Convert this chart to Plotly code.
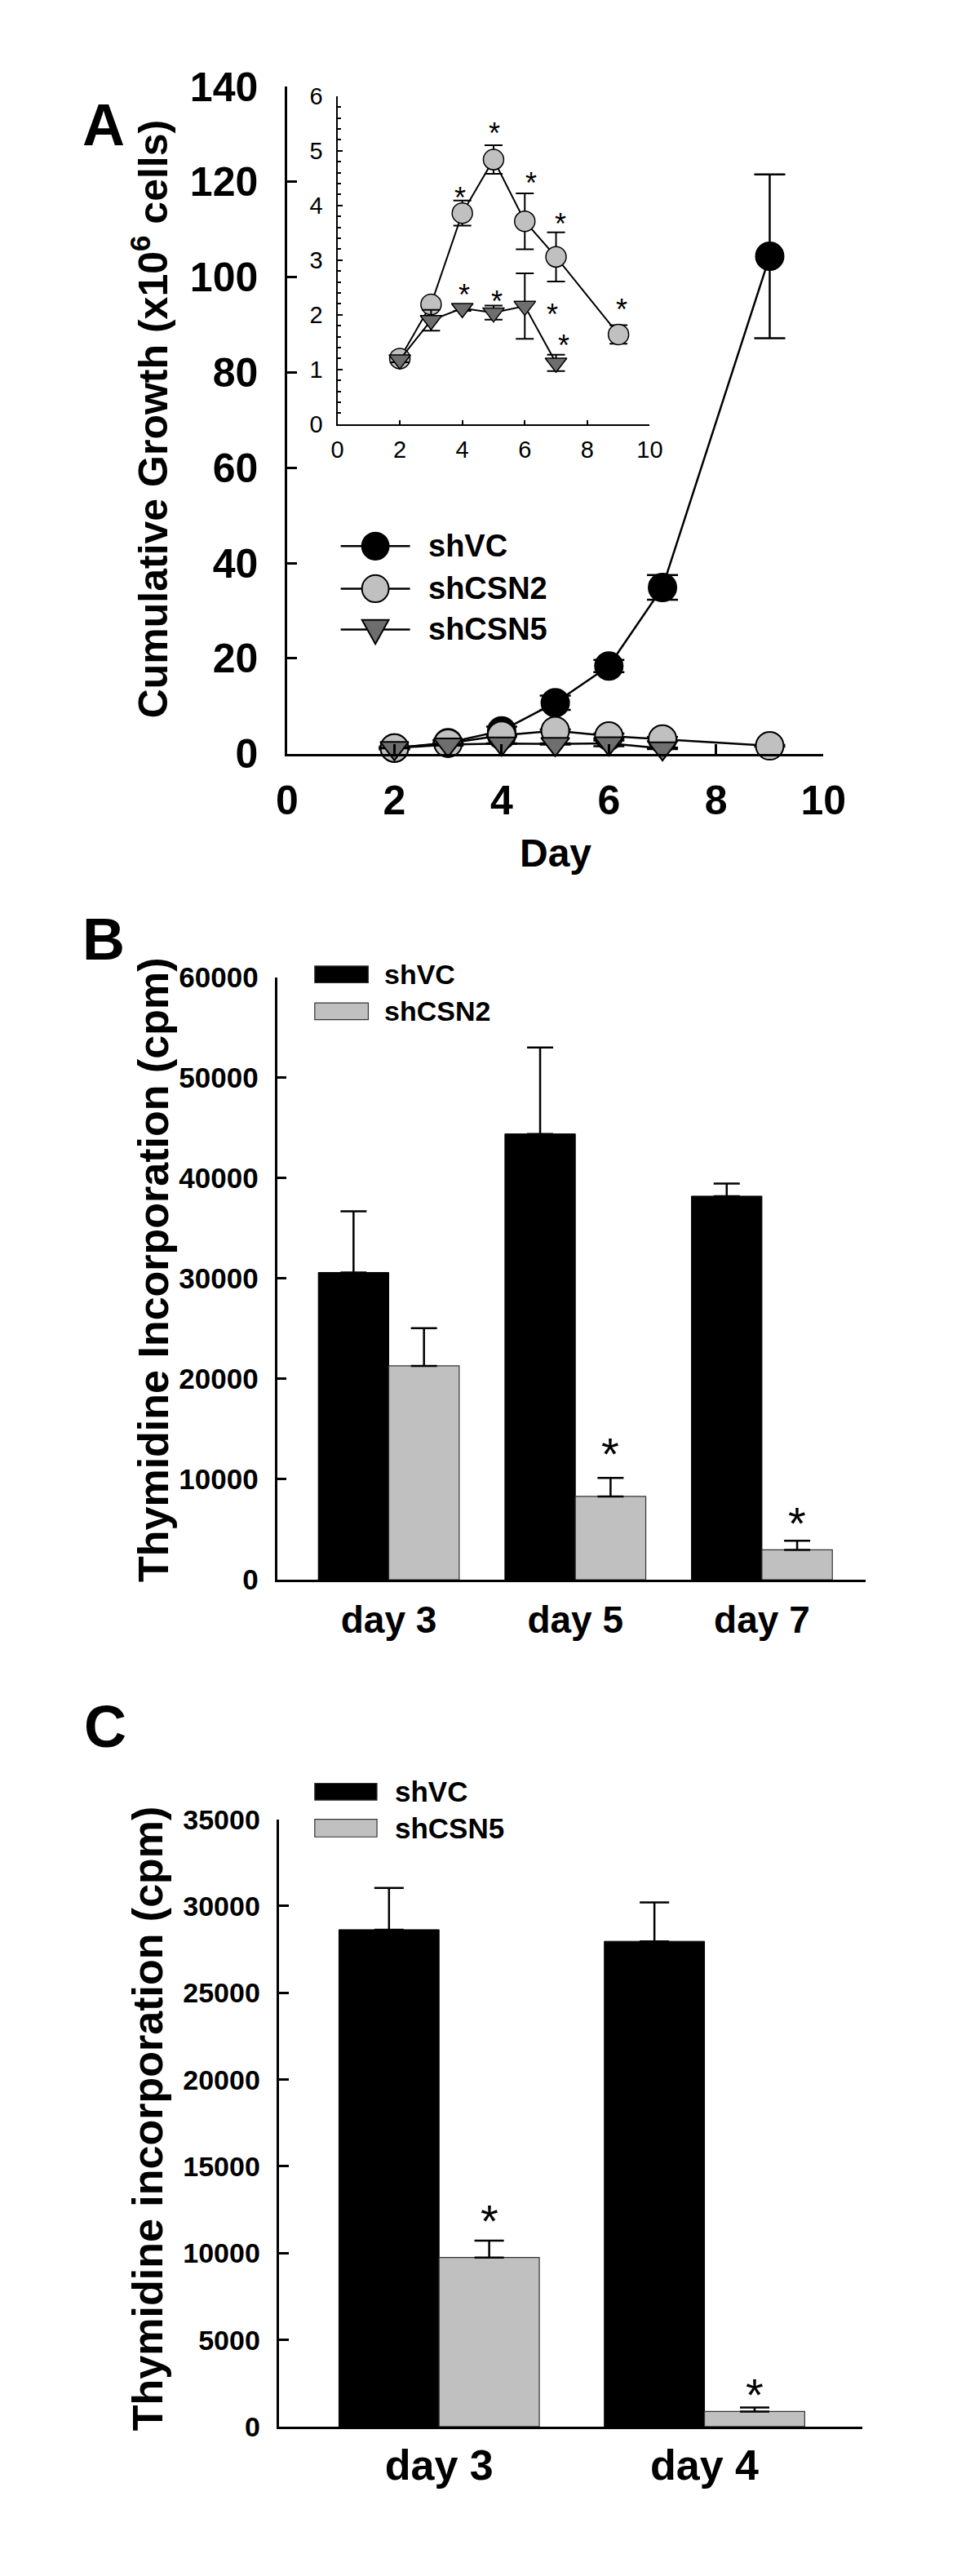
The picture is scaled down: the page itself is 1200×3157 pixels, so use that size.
import plotly.graph_objects as go

W, H = 1200, 3157
FONT = 'Liberation Sans, Arial, Helvetica, sans-serif'

# ---- data, panel A (cumulative growth, x10^6 cells) ----
days_vc = [2, 3, 4, 5, 6, 7, 9]
growth_vc = [1.2, 2.3, 4.8, 10.7, 18.4, 34.9, 104.4]
err_vc = [0.3, 0.5, 0.9, 1.5, 1.3, 2.6, 17.2]

days_csn2 = [2, 3, 4, 5, 6, 7, 9]
growth_csn2 = [1.2, 2.19, 3.86, 4.84, 3.71, 3.06, 1.64]
err_csn2 = [0.05, 0.1, 0.23, 0.26, 0.51, 0.45, 0.17]

days_csn5 = [2, 3, 4, 5, 6, 7]
growth_csn5 = [1.18, 1.9, 2.12, 2.04, 2.16, 1.12]
err_csn5 = [0.05, 0.19, 0.05, 0.13, 0.6, 0.15]

# significance marks in the inset (day, value)
star_csn2_x = [3.93, 5.03, 6.2, 7.13, 9.1]
star_csn2_y = [4.26, 5.44, 4.52, 3.78, 2.21]
star_csn5_x = [4.06, 5.11, 6.88, 7.26]
star_csn5_y = [2.48, 2.36, 2.12, 1.55]

# ---- data, panel B (thymidine, shCSN2) ----
b_days = ['day 3', 'day 5', 'day 7']
b_vc = [30600, 44400, 38200]
b_vc_err = [6100, 8600, 1250]
b_csn2 = [21300, 8300, 2980]
b_csn2_err = [3750, 1850, 900]
b_star_days = ['day 5', 'day 7']
b_star_y = [13500, 6600]

# ---- data, panel C (thymidine, shCSN5) ----
c_days = ['day 3', 'day 4']
c_vc = [28640, 27970]
c_vc_err = [2400, 2240]
c_csn5 = [9750, 870]
c_csn5_err = [970, 230]
c_star_days = ['day 3', 'day 4']
c_star_y = [12460, 2410]

LIGHT = '#c0c0c0'
DARK = '#6e6e6e'


def fx(p):
    return p / W


def fy(p):
    return 1 - p / H


fig = go.Figure()

# panel A main
for xs, ys, es, sym, col, sz in [
    (days_vc, growth_vc, err_vc, 'circle', 'black', 34),
    (days_csn2, growth_csn2, err_csn2, 'circle', LIGHT, 34),
    (days_csn5, growth_csn5, err_csn5, 'triangle-down', DARK, 30),
]:
    fig.add_trace(go.Scatter(
        x=xs, y=ys, mode='lines+markers', xaxis='x', yaxis='y',
        line=dict(color='black', width=2.5),
        marker=dict(symbol=sym, size=sz, color=col, line=dict(color='black', width=2)),
        error_y=dict(type='data', array=es, color='black', thickness=2.5, width=19),
        cliponaxis=False, showlegend=False,
    ))

# panel A inset
for xs, ys, es, sym, col, sz in [
    (days_csn2, growth_csn2, err_csn2, 'circle', LIGHT, 25),
    (days_csn5, growth_csn5, err_csn5, 'triangle-down', DARK, 23),
]:
    fig.add_trace(go.Scatter(
        x=xs, y=ys, mode='lines+markers', xaxis='x2', yaxis='y2',
        line=dict(color='black', width=2),
        marker=dict(symbol=sym, size=sz, color=col, line=dict(color='black', width=1.5)),
        error_y=dict(type='data', array=es, color='black', thickness=2, width=11),
        cliponaxis=False, showlegend=False,
    ))

# panel B
fig.add_trace(go.Bar(x=b_days, y=b_vc, xaxis='x3', yaxis='y3', marker=dict(color='black', line=dict(color='black', width=1)),
                     error_y=dict(type='data', array=b_vc_err, arrayminus=[0] * len(b_vc), symmetric=False,
                                  color='black', thickness=2.5, width=16), showlegend=False))
fig.add_trace(go.Bar(x=b_days, y=b_csn2, xaxis='x3', yaxis='y3', marker=dict(color=LIGHT, line=dict(color='#333333', width=1.2)),
                     error_y=dict(type='data', array=b_csn2_err, arrayminus=[0] * len(b_csn2), symmetric=False,
                                  color='black', thickness=2.5, width=16), showlegend=False))

# panel C
fig.add_trace(go.Bar(x=c_days, y=c_vc, xaxis='x4', yaxis='y4', marker=dict(color='black', line=dict(color='black', width=1)),
                     error_y=dict(type='data', array=c_vc_err, arrayminus=[0] * len(c_vc), symmetric=False,
                                  color='black', thickness=2.5, width=18), showlegend=False))
fig.add_trace(go.Bar(x=c_days, y=c_csn5, xaxis='x4', yaxis='y4', marker=dict(color=LIGHT, line=dict(color='#333333', width=1.2)),
                     error_y=dict(type='data', array=c_csn5_err, arrayminus=[0] * len(c_csn5), symmetric=False,
                                  color='black', thickness=2.5, width=18), showlegend=False))


def ax(**kw):
    base = dict(showline=True, linecolor='black', showgrid=False, zeroline=False,
                ticks='inside', tickcolor='black', fixedrange=True)
    base.update(kw)
    return base


def bold(s):
    return dict(family=FONT, size=s, color='black', weight='bold')


def label(x, y, text, font, **kw):
    a = dict(x=fx(x), y=fy(y), xref='paper', yref='paper', text=text, showarrow=False,
             xanchor='center', yanchor='middle', font=font)
    a.update(kw)
    return a


annotations = []
shapes = []

# asterisks
for xs, ys in [(star_csn2_x, star_csn2_y), (star_csn5_x, star_csn5_y)]:
    for x, y in zip(xs, ys):
        annotations.append(dict(x=x, y=y, xref='x2', yref='y2', text='*', showarrow=False,
                                xanchor='center', yanchor='middle',
                                font=dict(family=FONT, size=36, color='black'), yshift=-8))
GROUP = 1 - 0.245
for days, stars, ys, xr, yr in [(b_days, b_star_days, b_star_y, 'x3', 'y3'),
                                  (c_days, c_star_days, c_star_y, 'x4', 'y4')]:
    for d, y in zip(stars, ys):
        annotations.append(dict(x=days.index(d) + GROUP / 4, y=y, xref=xr, yref=yr, text='*', showarrow=False,
                                xanchor='center', yanchor='middle',
                                font=dict(family=FONT, size=56, color='black'), yshift=-12))

# panel letters
for t, x, y in [('A', 109, 119), ('B', 109, 1135), ('C', 111, 2118)]:
    annotations.append(label(x, y, t, bold(72)))

# axis titles
annotations += [
    label(168, 486, 'Cumulative Growth (x10<sup>6</sup> cells)', bold(50), textangle=-90),
    label(683, 1028, 'Day', bold(48)),
    label(172, 1548, 'Thymidine Incorporation (cpm)', bold(52), textangle=-90),
    label(165, 2607, 'Thymidine incorporation (cpm)', bold(52), textangle=-90),
]

# legend A
for i, (name, sym, col) in enumerate([('shVC', 'circle', 'black'), ('shCSN2', 'circle', LIGHT),
                                      ('shCSN5', 'tri', DARK)]):
    cy = [645, 698, 749][i]
    shapes.append(dict(type='line', xref='paper', yref='paper', x0=fx(410), x1=fx(498), y0=fy(cy), y1=fy(cy),
                       line=dict(color='black', width=2.5)))
    if sym == 'circle':
        r = 17
        shapes.append(dict(type='circle', xref='paper', yref='paper', x0=fx(454 - r), x1=fx(454 + r),
                           y0=fy(cy + r), y1=fy(cy - r), fillcolor=col, line=dict(color='black', width=2)))
    else:
        p = 'M {} {} L {} {} L {} {} Z'.format(fx(437), fy(cy - 12), fx(471), fy(cy - 12), fx(454), fy(cy + 18))
        shapes.append(dict(type='path', xref='paper', yref='paper', path=p, fillcolor=col,
                           line=dict(color='black', width=2)))
    annotations.append(label(519, cy, name, bold(38), xanchor='left'))

# legend B / C
for rows, x0, x1, tx, fnt in [
    ([('shVC', 'black', 1169, 1190), ('shCSN2', LIGHT, 1215, 1236)], 377, 445, 463, bold(34)),
    ([('shVC', 'black', 2189, 2210), ('shCSN5', LIGHT, 2234, 2256)], 377, 456, 477, bold(35)),
]:
    for name, col, ya, yb in rows:
        shapes.append(dict(type='rect', xref='paper', yref='paper', x0=fx(x0), x1=fx(x1), y0=fy(yb), y1=fy(ya),
                           fillcolor=col, line=dict(color='#333333', width=1.2)))
        annotations.append(label(tx, (ya + yb) / 2, name, fnt, xanchor='left'))

fig.update_layout(
    width=W, height=H, margin=dict(l=0, r=0, t=0, b=0),
    paper_bgcolor='white', plot_bgcolor='rgba(0,0,0,0)',
    barmode='group', bargap=0.245, bargroupgap=0,
    showlegend=False,
    xaxis=ax(domain=[fx(342), fx(1023)], anchor='y', range=[0, 10], dtick=2, ticklen=12, tickwidth=2.5,
             linewidth=2.5, tickfont=bold(50), ticklabelstandoff=12),
    yaxis=ax(domain=[fy(904), fy(71.5)], anchor='x', range=[0, 140], dtick=20, ticklen=12, tickwidth=2.5,
             linewidth=2.5, tickfont=bold(50), ticklabelstandoff=23),
    xaxis2=ax(domain=[fx(405.7), fx(802.5)], anchor='y2', range=[0, 10], dtick=2, ticklen=5, tickwidth=2,
              linewidth=2, tickfont=dict(family=FONT, size=29, color='black'), ticklabelstandoff=4),
    yaxis2=ax(domain=[fy(492.7), fy(83.3)], anchor='x2', range=[0, 6], dtick=1, ticklen=6, tickwidth=2,
              linewidth=2, tickfont=dict(family=FONT, size=29, color='black'), ticklabelstandoff=10,
              minor=dict(dtick=0.2, ticks='inside', ticklen=4, tickwidth=2, tickcolor='black')),
    xaxis3=ax(domain=[fx(330), fx(1077)], anchor='y3', type='category', range=[-0.595, 2.557], ticks='',
              linewidth=2.5, tickfont=bold(46), ticklabelstandoff=7),
    yaxis3=ax(domain=[fy(1935), fy(1183)], anchor='x3', range=[0, 60000], dtick=10000, tickformat='d',
              ticklen=11, tickwidth=2.5, linewidth=2.5, tickfont=bold(35), ticklabelstandoff=14),
    xaxis4=ax(domain=[fx(332), fx(1073)], anchor='y4', type='category', range=[-0.602, 1.596], ticks='',
              linewidth=2.5, tickfont=bold(52), ticklabelstandoff=0),
    yaxis4=ax(domain=[fy(2992), fy(2234)], anchor='x4', range=[0, 35000], dtick=5000, tickformat='d',
              ticklen=12, tickwidth=2.5, linewidth=2.5, tickfont=bold(34), ticklabelstandoff=14),
    annotations=annotations, shapes=shapes,
)

fig.write_html('out.html')
